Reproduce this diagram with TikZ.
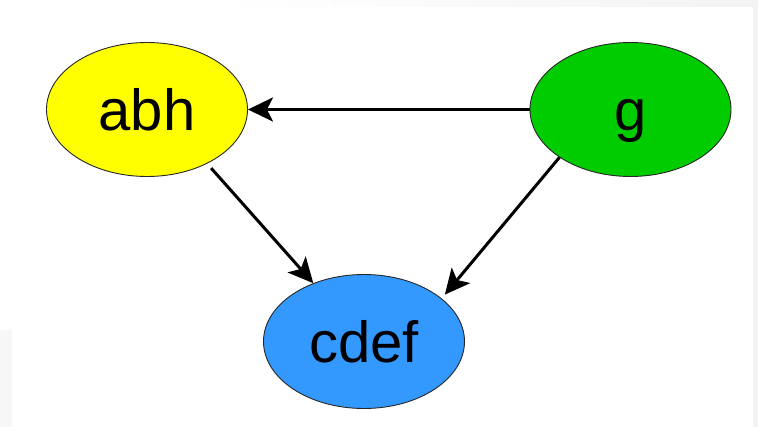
\documentclass[tikz,border=0pt]{standalone}
\usepackage{fontspec}
\setmainfont{Liberation Sans}
\usetikzlibrary{shapes.geometric,arrows.meta}

\definecolor{nodeyellow}{HTML}{FFFF00}
\definecolor{nodegreen}{HTML}{00CC00}
\definecolor{nodeblue}{HTML}{3399FF}
\definecolor{framegray}{HTML}{F3F3F3}

\tikzset{
  state/.style={ellipse, draw=black!85, line width=0.9pt,
    minimum width=201pt, minimum height=134pt, inner sep=0pt,
    font=\fontsize{58}{60}\selectfont, text height=42pt, text depth=0pt},
  link/.style={line width=3pt, draw=black,
    -{Stealth[length=25pt,width=24pt,inset=6pt]}}
}

\begin{document}
\begin{tikzpicture}[x=1pt,y=-1pt]
  \useasboundingbox (0,0) rectangle (758,427);
  % page background with a faint frame along the top and right edges
  \fill[white] (0,0) rectangle (758,427);
  \shade[left color=white, right color=framegray] (220,0) rectangle (758,7);
  \fill[framegray] (753,0) rectangle (758,427);
  \fill[framegray!70] (0,330) rectangle (12,427);

  \node[state, fill=nodeyellow] (abh)  at (147,109.5) {abh};
  \node[state, fill=nodegreen]  (g)    at (630.5,109.5) {g};
  \node[state, fill=nodeblue]   (cdef) at (364,341.5) {cdef};

  \draw[link] (g.180) -- (abh.0);
  \draw[link, shorten <=6pt] (abh.-42) -- (cdef.131);
  \draw[link, shorten >=5pt] (g.214) -- (cdef.29);
\end{tikzpicture}
\end{document}
